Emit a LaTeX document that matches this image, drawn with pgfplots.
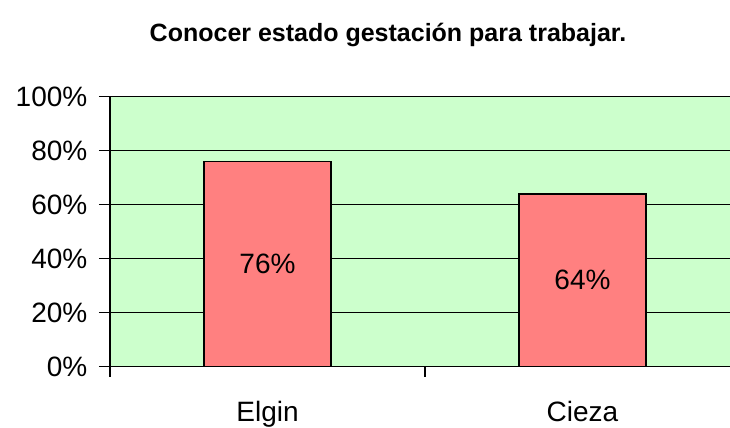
\documentclass[border=0pt]{standalone}
\usepackage{pgfplots}
\pgfplotsset{compat=1.18}
\usepackage{fontspec}
\setmainfont{Liberation Sans}
\definecolor{plotbg}{HTML}{CCFFCC}
\definecolor{barfill}{HTML}{FF8080}
\begin{document}
\begin{tikzpicture}
\path[use as bounding box] (0,0) rectangle (365pt,214pt);
\clip (0,0) rectangle (365pt,214pt);
\node[font=\fontsize{12.5}{14}\selectfont\bfseries] at (194pt,196.5pt) {Conocer estado gestación para trabajar.};
\begin{axis}[
  at={(55pt,30.65pt)}, anchor=south west,
  scale only axis, width=315pt, height=135pt,
  xmin=0, xmax=2, ymin=0, ymax=100,
  axis background/.style={fill=plotbg},
  axis line style={black, line width=0.8pt},
  ytick={0,20,40,60,80,100},
  yticklabel={\pgfmathprintnumber{\tick}\%},
  ymajorgrids, major grid style={black, line width=0.8pt},
  xtick={0.5,1.5}, xticklabels={Elgin,Cieza},
  major x tick style={draw=none},
  minor xtick={0,1,2},
  minor tick length=5pt, major tick length=5.5pt,
  tick align=outside,
  major y tick style={black, line width=0.8pt},
  minor x tick style={black, line width=0.8pt},
  yticklabel style={xshift=-2.3pt},
  xticklabel style={yshift=-8.3pt},
  tick label style={font=\fontsize{14}{16}\selectfont},
  /pgf/number format/assume math mode=true,
  ytick pos=left, xtick pos=bottom,
]
\addplot[ybar, bar width=63.5pt, fill=barfill, draw=black, line width=0.8pt,
  nodes near coords={\pgfmathprintnumber{\pgfplotspointmeta}\%},
  visualization depends on={y \as \rawy},
  every node near coord/.append style={anchor=center, font=\fontsize{14}{16}\selectfont, shift={(axis direction cs:0,-\rawy/2)}},
  /pgf/number format/assume math mode=true]
  coordinates {(0.5,76) (1.5,64)};
\end{axis}
\end{tikzpicture}
\end{document}
